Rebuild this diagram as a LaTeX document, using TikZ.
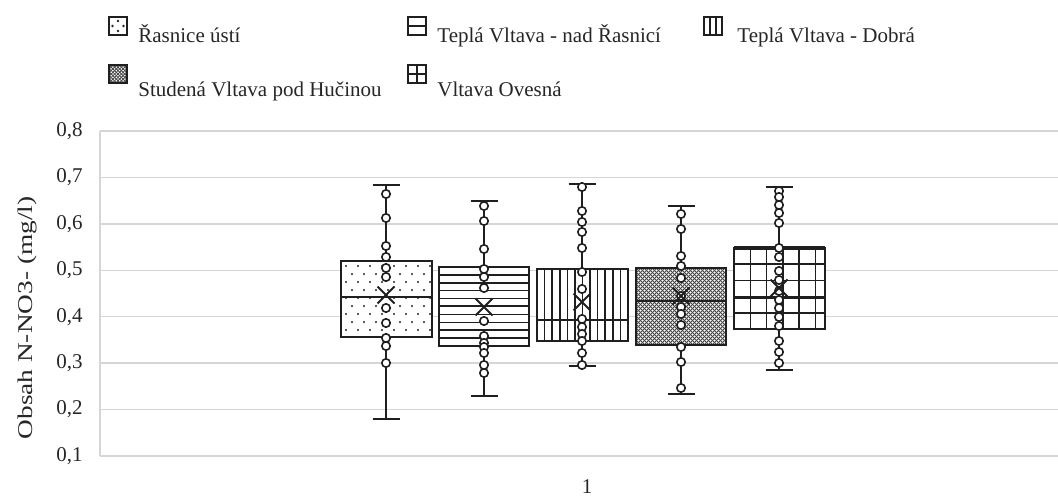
\documentclass[tikz,border=0pt]{standalone}
\usepackage{fontspec}
\setmainfont{Liberation Serif}
\begin{document}
\begin{tikzpicture}[x=0.5pt,y=-0.5pt,
  font=\fontsize{10.5}{12}\selectfont,
  gridln/.style={draw=black!16, line width=0.7pt},
  boxln/.style={draw=black!88, line width=1.1pt},
  whisk/.style={draw=black!88, line width=0.95pt},
  ptc/.style={draw=black!88, fill=white, line width=0.8pt},
  meanmark/.style={draw=black!88, line width=1pt},
  patln/.style={draw=black!88, line width=0.75pt},
  hatch/.style={draw=black!72, line width=0.42pt},
  ticklab/.style={anchor=east, inner sep=0pt, text=black!85},
  legtext/.style={anchor=base west, inner sep=0pt, text=black!85}]
\useasboundingbox (0,0) rectangle (1058,496);
\newcommand\meanX[2]{\draw[meanmark] (#1-8.5,#2-8.5) -- (#1+8.5,#2+8.5) (#1-8.5,#2+8.5) -- (#1+8.5,#2-8.5);}
\newcommand\whiskers[4]{% center, top, bottom, halfcap
  \draw[whisk] (#1,#2) -- (#1,#3);
  \draw[whisk] (#1-#4,#2) -- (#1+#4,#2) (#1-#4,#3) -- (#1+#4,#3);}
% grid and ticks
\foreach \k in {1,...,8}{
  \pgfmathsetmacro\yy{131+(8-\k)*46.43}
  \draw[gridln] (100,\yy) -- (1058,\yy);
  \node[ticklab] (t\k) at (83,\yy) {0,\k};
}
\draw[gridln] (100,131) -- (100,456);
\node[rotate=90, inner sep=0pt, text=black!85] (ytitle) at (27,318) {\scalebox{1.3}[1]{Obsah N-NO3- (mg/l)}};
\node[anchor=base, inner sep=0pt, text=black!85] (xcat) at (587,493) {1};

% ---------- Box 1: dotted ----------
\whiskers{386}{185}{419}{13.5}
\fill[white] (341,261) rectangle (432,337);
\begin{scope}
  \clip (341,261) rectangle (432,337);
  \foreach \j in {0,...,9}
    \foreach \i in {0,...,8}
      \fill[black!85] ({346+mod(\j,2)*6+12*\i},{266+8*\j}) circle[radius=0.6pt];
\end{scope}
\draw[boxln] (341,261) rectangle (432,337);
\draw[boxln] (341,297) -- (432,297);
\foreach \c in {194,218,246,257,268,277,308,323,338,346,363}
  \draw[ptc] (386,\c) circle[radius=2.1pt];
\meanX{386}{295}

% ---------- Box 2: horizontal stripes ----------
\whiskers{484}{201}{396}{13.5}
\fill[white] (439,267) rectangle (529,346);
\foreach \j in {1,...,9}
  \draw[patln] (439,{267+\j*7.9}) -- (529,{267+\j*7.9});
\draw[boxln] (439,267) rectangle (529,346);
\draw[boxln] (439,306) -- (529,306);
\foreach \c in {206,221,249,269,277,288,321,336,343,347,353,365,373}
  \draw[ptc] (484,\c) circle[radius=2.1pt];
\meanX{484}{307}

% ---------- Box 3: vertical stripes ----------
\whiskers{582}{184}{366}{13.5}
\fill[white] (537,269) rectangle (628,341);
\foreach \i in {1,...,11}
  \draw[patln] ({537+\i*7.58},269) -- ({537+\i*7.58},341);
\draw[boxln] (537,269) rectangle (628,341);
\draw[boxln] (537,320) -- (628,320);
\foreach \c in {187,211,222,232,248,272,289,319,327,334,341,353,365}
  \draw[ptc] (582,\c) circle[radius=2.1pt];
\meanX{582}{302}

% ---------- Box 4: crosshatch ----------
\whiskers{681}{206}{394}{13.5}
\fill[white] (636,268) rectangle (726,345);
\begin{scope}
  \clip (636,268) rectangle (726,345);
  \foreach \k in {-22,...,24}{
    \draw[hatch] ({636+\k*4},268) -- ++(80,80);
    \draw[hatch] ({636+\k*4},345) -- ++(80,-80);
  }
\end{scope}
\draw[boxln] (636,268) rectangle (726,345);
\draw[boxln] (636,301) -- (726,301);
\foreach \c in {214,229,256,266,278,296,307,314,325,347,362,388}
  \draw[ptc] (681,\c) circle[radius=2.1pt];
\meanX{681}{296}

% ---------- Box 5: grid ----------
\whiskers{779}{187}{370}{13.5}
\fill[white] (734,248) rectangle (825,329);
\foreach \i in {1,...,5}
  \draw[patln] ({734+\i*16.3},248) -- ({734+\i*16.3},329);
\foreach \j in {1,...,4}
  \draw[patln] (734,{248+\j*16.2}) -- (825,{248+\j*16.2});
\draw[boxln] (734,248) rectangle (825,329);
\draw[boxln, line width=1.6pt] (734,248) -- (825,248);
\draw[boxln] (734,298) -- (825,298);
\foreach \c in {191,197,205,213,223,248,257,271,280,291,300,308,317,326,341,352,363}
  \draw[ptc] (779,\c) circle[radius=2.1pt];
\meanX{779}{288}

% ---------- Legend ----------
% icon 1
\draw[boxln] (109,17) rectangle (127,35);
\foreach \p in {(118,21),(112.5,26),(123.5,26),(118,31)}
  \fill[black!85] \p circle[radius=0.65pt];
\node[legtext] (l1) at (138,43) {Řasnice ústí};
% icon 2
\draw[boxln, line width=1.4pt] (408,17) rectangle (426,35);
\draw[boxln, line width=1.4pt] (408,26) -- (426,26);
\node[legtext] (l2) at (437,43) {Teplá Vltava - nad Řasnicí};
% icon 3
\draw[boxln] (704,17) rectangle (722,35);
\draw[boxln] (710,17) -- (710,35) (716,17) -- (716,35);
\node[legtext] (l3) at (737,43) {Teplá Vltava - Dobrá};
% icon 4
\begin{scope}
  \clip (109,65) rectangle (127,83);
  \fill[white] (109,65) rectangle (127,83);
  \foreach \k in {-6,...,6}{
    \draw[hatch] ({109+\k*3.4},65) -- ++(20,20);
    \draw[hatch] ({109+\k*3.4},83) -- ++(20,-20);
  }
\end{scope}
\draw[boxln, line width=0.7pt] (109,65) rectangle (127,83);
\node[legtext] (l4) at (138,97) {Studená Vltava pod Hučinou};
% icon 5
\draw[boxln] (408,65) rectangle (426,83);
\draw[boxln] (417,65) -- (417,83) (408,74) -- (426,74);
\node[legtext] (l5) at (437,97) {Vltava Ovesná};
\end{tikzpicture}
\end{document}
